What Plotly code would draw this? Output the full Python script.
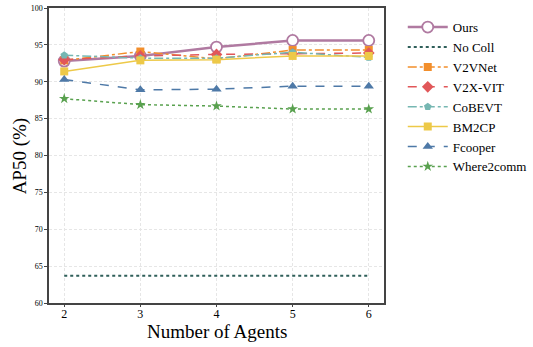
import plotly.graph_objects as go

agents = [2, 3, 4, 5, 6]
ours = [92.8, 93.5, 94.7, 95.6, 95.6]
no_coll = [63.7, 63.7, 63.7, 63.7, 63.7]
v2vnet = [92.9, 94.1, 93.1, 94.3, 94.3]
v2xvit = [93.0, 93.5, 93.7, 93.8, 93.9]
cobevt = [93.6, 93.2, 93.2, 94.0, 93.3]
bm2cp = [91.4, 92.9, 93.0, 93.5, 93.5]
fcooper = [90.3, 88.9, 89.0, 89.4, 89.4]
where2comm = [87.7, 86.9, 86.7, 86.3, 86.3]

y_ticks = [60, 65, 70, 75, 80, 85, 90, 95, 100]

SERIF = "Liberation Serif, Times New Roman, DejaVu Serif, serif"

series = [
    ("Ours", ours, "#B07AA1", "solid", "circle-open", 11, 2.5),
    ("No Coll", no_coll, "#2F5F5A", "dot", None, 0, 2),
    ("V2VNet", v2vnet, "#F28E2B", "dashdot", "square", 8, 1.5),
    ("V2X-VIT", v2xvit, "#E15759", "dash", "diamond", 9, 1.5),
    ("CoBEVT", cobevt, "#76B7B2", "dashdot", "pentagon", 8, 1.5),
    ("BM2CP", bm2cp, "#EDC948", "solid", "square", 8, 1.5),
    ("Fcooper", fcooper, "#4E79A7", "dash", "triangle-up", 9, 1.5),
    ("Where2comm", where2comm, "#59A14F", "dot", "star", 8, 1.5),
]

fig = go.Figure()
for name, vals, color, dash, sym, size, w in series:
    if sym is None:
        mode = "lines"
        marker = None
    else:
        mode = "lines+markers"
        if sym == "circle-open":
            marker = dict(symbol="circle", size=size, color="white",
                          line=dict(color=color, width=1.8))
        else:
            marker = dict(symbol=sym, size=size, color=color,
                          line=dict(color=color, width=0))
    fig.add_trace(go.Scatter(
        x=agents, y=vals, name=name, mode=mode,
        line=dict(color=color, dash=dash, width=w),
        marker=marker,
    ))

fig.update_layout(
    width=533, height=347,
    margin=dict(l=49, r=149, t=8, b=44, autoexpand=False),
    paper_bgcolor="white", plot_bgcolor="white",
    font=dict(family=SERIF, color="black"),
    legend=dict(
        x=1.056, y=0.986, xanchor="left", yanchor="top",
        font=dict(size=13, family=SERIF),
        tracegroupgap=0, itemwidth=40,
        bgcolor="rgba(0,0,0,0)",
    ),
    showlegend=True,
    annotations=[
        dict(text="Number of Agents", xref="paper", yref="paper",
             x=0.5, y=-0.097, xanchor="center", yanchor="middle",
             showarrow=False, borderpad=0, font=dict(size=19, family=SERIF)),
        dict(text="AP50 (%)", xref="paper", yref="paper",
             x=-0.087, y=0.5, xanchor="center", yanchor="middle",
             textangle=-90, showarrow=False, borderpad=0,
             font=dict(size=19, family=SERIF)),
    ],
)
fig.update_xaxes(
    range=[1.8, 6.2], tickvals=agents, ticktext=[str(a) for a in agents],
    tickfont=dict(size=12, family=SERIF), automargin=False,
    ticklabelstandoff=-3,
    showgrid=True, gridcolor="#e6e6e6", griddash="3px,2px", gridwidth=1,
    showline=True, linecolor="#444", linewidth=1.5, mirror=True,
    ticks="outside", ticklen=2, tickcolor="#444", zeroline=False,
)
fig.update_yaxes(
    range=[60, 100], tickvals=y_ticks, ticktext=[str(v) for v in y_ticks],
    tickfont=dict(size=8, family=SERIF), automargin=False,
    showgrid=True, gridcolor="#e6e6e6", griddash="3px,2px", gridwidth=1,
    showline=True, linecolor="#444", linewidth=1.5, mirror=True,
    ticks="outside", ticklen=3, tickcolor="#444", zeroline=False,
)

fig.write_html("out.html", config={"displayModeBar": False},
               post_script="document.body.style.margin='0';")
